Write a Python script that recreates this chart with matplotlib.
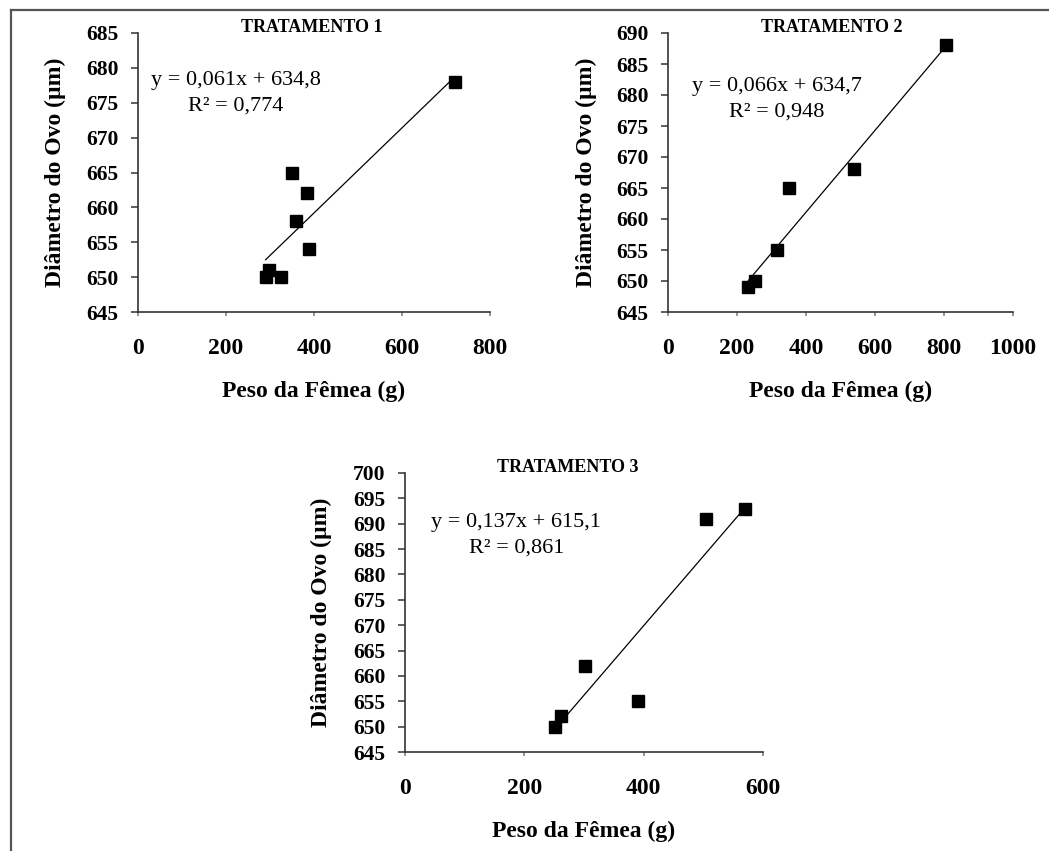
import matplotlib
matplotlib.use('Agg')
import matplotlib.pyplot as plt
import numpy as np
from matplotlib.lines import Line2D

# data
peso_t1 = [720, 350, 385, 360, 388, 298, 290, 325]
diam_t1 = [678, 665, 662, 658, 654, 651, 650, 650]
peso_t2 = [805, 540, 350, 315, 252, 233]
diam_t2 = [688, 668, 665, 655, 650, 649]
peso_t3 = [570, 505, 302, 391, 262, 251]
diam_t3 = [693, 691, 662, 655, 652, 650]

slopes = [0.061, 0.066, 0.137]
intercepts = [634.8, 634.7, 615.1]
r2_labels = ['0,774', '0,948', '0,861']
eq_labels = ['y = 0,061x + 634,8', 'y = 0,066x + 634,7', 'y = 0,137x + 615,1']
titles = ['TRATAMENTO 1', 'TRATAMENTO 2', 'TRATAMENTO 3']
y_limits = [(645, 685), (645, 690), (645, 700)]
x_limits = [(0, 800), (0, 1000), (0, 600)]

W, H = 1049, 851
plt.rcParams['font.family'] = ['Liberation Serif', 'DejaVu Serif']

fig = plt.figure(figsize=(W / 100, H / 100), dpi=100)


def px_axes(left, right, top, bottom):
    return fig.add_axes([left / W, 1 - bottom / H, (right - left) / W, (bottom - top) / H])


# axes boxes in pixels: left, right, top, bottom
boxes = [(138, 490, 33, 312), (668, 1013, 33, 312), (405, 763, 473, 752)]
title_x = [0.494, 0.475, 0.455]
eq_pos = [(0.278, 0.783), (0.315, 0.762), (0.311, 0.778)]
datasets = [(peso_t1, diam_t1), (peso_t2, diam_t2), (peso_t3, diam_t3)]

for i, (box, (xs, ys)) in enumerate(zip(boxes, datasets)):
    ax = px_axes(*box)
    ax.plot(xs, ys, 's', color='black', markersize=8.5, zorder=3)
    xline = np.array([min(xs), max(xs)])
    ax.plot(xline, slopes[i] * xline + intercepts[i], color='black', linewidth=0.9)

    ax.set_xlim(*x_limits[i])
    ax.set_ylim(*y_limits[i])
    ax.set_xticks(np.arange(x_limits[i][0], x_limits[i][1] + 1, 200))
    ax.set_yticks(np.arange(y_limits[i][0], y_limits[i][1] + 1, 5))

    for side in ['top', 'right']:
        ax.spines[side].set_visible(False)
    for side in ['left', 'bottom']:
        ax.spines[side].set_linewidth(1.2)
        ax.spines[side].set_color('#333333')

    ax.tick_params(axis='y', direction='out', length=5, width=1.1, color='#333333', pad=9, labelsize=15.5)
    ax.tick_params(axis='x', direction='out', length=3, width=1.1, color='#777777', pad=16, labelsize=17)
    for lbl in ax.get_xticklabels() + ax.get_yticklabels():
        lbl.set_fontweight('bold')

    ax.set_xlabel('Peso da Fêmea (g)', fontsize=17, fontweight='bold')
    ax.set_ylabel('Diâmetro do Ovo (µm)', fontsize=17, fontweight='bold')
    ax.xaxis.set_label_coords(0.5, -0.245)
    ax.yaxis.set_label_coords(-0.205, 0.5)

    ax.text(title_x[i], 1.02, titles[i], transform=ax.transAxes, ha='center', va='center',
            fontsize=13, fontweight='bold')
    ax.text(eq_pos[i][0], eq_pos[i][1], eq_labels[i] + '\nR² = ' + r2_labels[i],
            transform=ax.transAxes, ha='center', va='center', multialignment='center',
            fontsize=16, linespacing=1.45)

# frame lines of the original picture (top and left only)
fig.add_artist(Line2D([11 / W, 1], [1 - 10 / H, 1 - 10 / H], color='#555555', linewidth=1.6))
fig.add_artist(Line2D([11 / W, 11 / W], [0, 1 - 10 / H], color='#555555', linewidth=1.6))

fig.savefig('out.png', dpi=100)
